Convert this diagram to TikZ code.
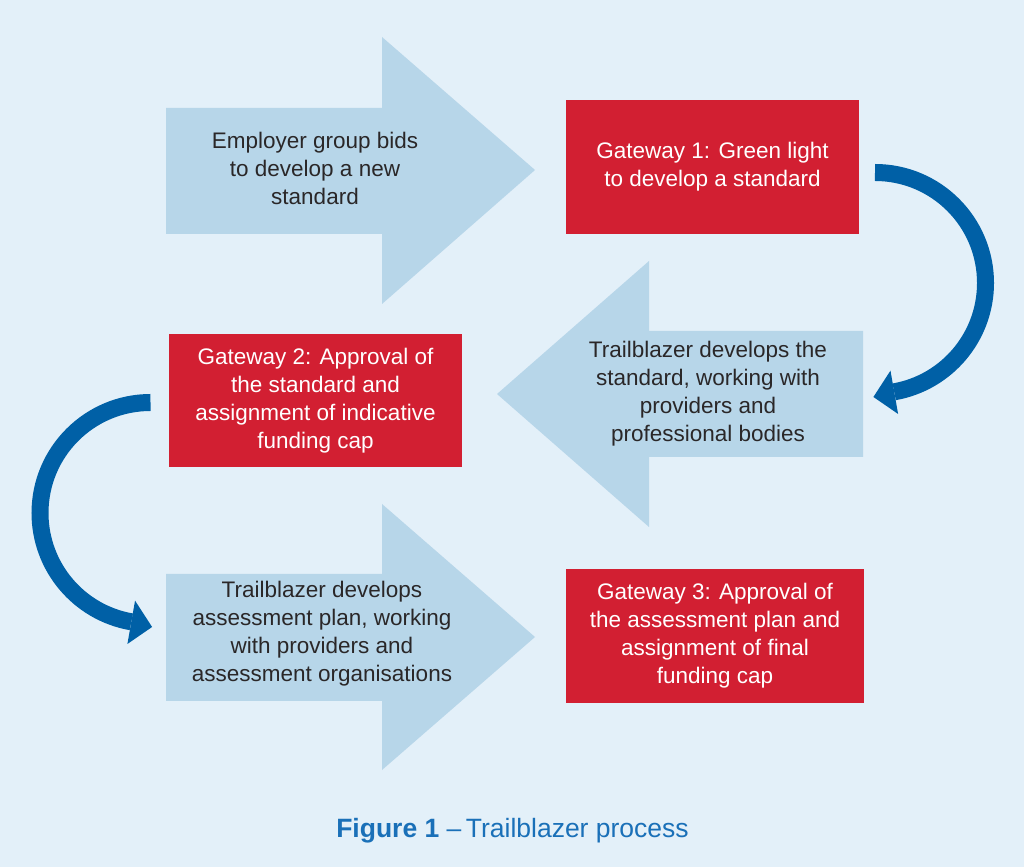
\documentclass[tikz,border=0pt]{standalone}
\usepackage{fontspec}
\setmainfont{Liberation Sans}
\usetikzlibrary{calc}
\definecolor{bg}{HTML}{E3F0F9}
\definecolor{lblue}{HTML}{B7D6E9}
\definecolor{gred}{HTML}{D21F32}
\definecolor{dblue}{HTML}{0060A6}
\definecolor{txt}{HTML}{2A2728}
\definecolor{capblue}{HTML}{1A70B8}
\begin{document}
\begin{tikzpicture}[x=1pt,y=1pt,
  bigarrow/.style={fill=lblue},
  bodytext/.style={align=center, text=txt, inner sep=0pt, font=\fontsize{22.5}{28}\selectfont},
  gate/.style={fill=gred, text=white, align=center, inner sep=0pt, font=\fontsize{22.5}{28}\selectfont},
  curve/.style={draw=dblue, line width=17pt},
  curvehead/.style={fill=dblue}]
\fill[bg] (0,0) rectangle (1024,867);
\useasboundingbox (0,0) rectangle (1024,867);

% light blue block arrows
\fill[bigarrow] (166,759) -- (382,759) -- (382,830) -- (535,697) -- (382,563) -- (382,633) -- (166,633) -- cycle;
\fill[bigarrow] (863,536) -- (649,536) -- (649,606) -- (497,473) -- (649,340) -- (649,410) -- (863,410) -- cycle;
\fill[bigarrow] (166,293) -- (382,293) -- (382,363) -- (535,230) -- (382,97) -- (382,166) -- (166,166) -- cycle;

% texts in the block arrows
\node[bodytext] (a1) at (315,699) {Employer group bids\\to develop a new\\standard};
\node[bodytext] (a2) at (708,473) {Trailblazer develops the\\standard, working with\\providers and\\professional bodies};
\node[bodytext] (a3) at (322,233) {Trailblazer develops\\assessment plan, working\\with providers and\\assessment organisations};

% red gateway boxes
\node[gate, minimum width=293pt, minimum height=134pt] (g1) at (712.5,700) {Gateway 1: Green light\\to develop a standard};
\node[gate, minimum width=293pt, minimum height=133pt] (g2) at (315.5,466.5) {Gateway 2: Approval of\\the standard and\\assignment of indicative\\funding cap};
\node[gate, minimum width=298pt, minimum height=134pt] (g3) at (715,231) {Gateway 3: Approval of\\the assessment plan and\\assignment of final\\funding cap};

% curved arrows
\coordinate (cA) at (875,584);
\coordinate (sA) at ($(cA)+(90:110.5)$);
\draw[curve] (sA) arc[start angle=90, end angle=-80, radius=110.5];
\fill[curvehead] ($(cA)+(-80:89)$) -- ($(cA)+(-80:133)$) -- ($(cA)+(-90.8:114)$) -- cycle;

\coordinate (cB) at (150.5,354);
\coordinate (sB) at ($(cB)+(90:110.5)$);
\draw[curve] (sB) arc[start angle=90, end angle=260, radius=110.5];
\fill[curvehead] ($(cB)+(260:89)$) -- ($(cB)+(260:133)$) -- ($(cB)+(270.8:114)$) -- cycle;

% caption
\node[anchor=base, text=capblue, inner sep=0pt, font=\fontsize{26.5}{30}\selectfont] (cap) at (512.5,30) {\textbf{Figure 1} –\,Trailblazer process};
\end{tikzpicture}
\end{document}
